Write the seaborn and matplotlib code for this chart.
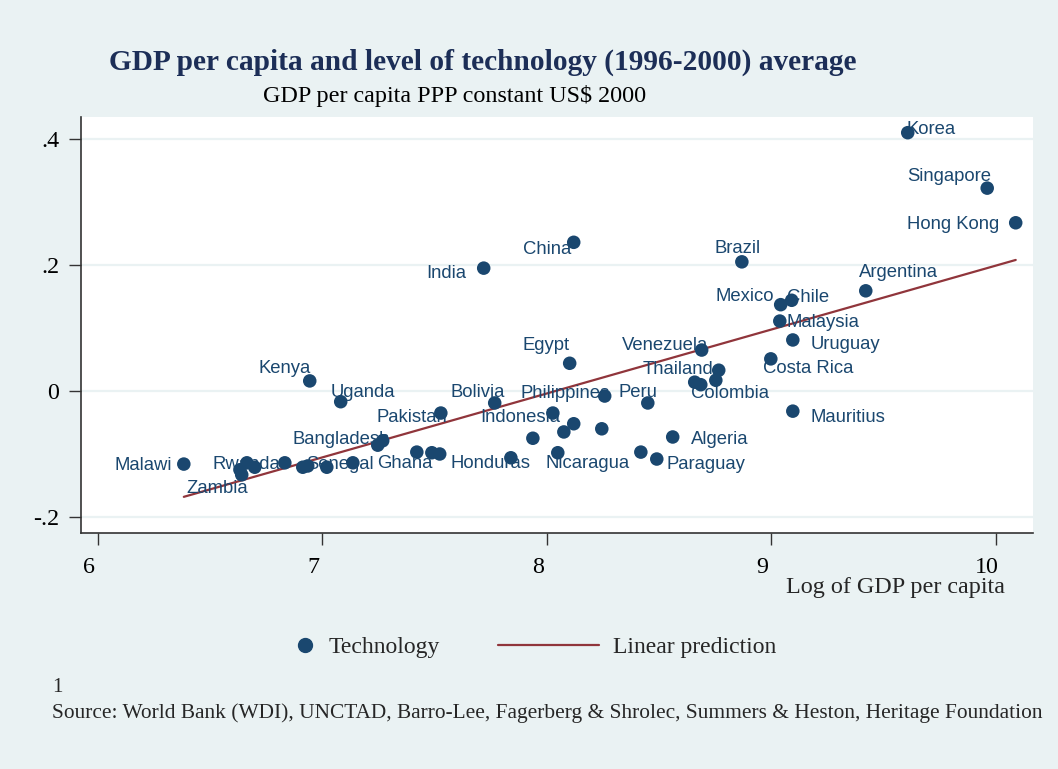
import matplotlib
matplotlib.use("Agg")
import matplotlib.pyplot as plt
from matplotlib.lines import Line2D
from matplotlib.transforms import ScaledTranslation
import seaborn as sns
import pandas as pd

# Datos (promedio 1996-2000)
paises = ["Korea", "Singapore", "Hong Kong", "Brazil", "Argentina", "China", "India",
          "Mexico", "Chile", "Malaysia", "Uruguay", "Costa Rica", "Mauritius", "Venezuela",
          "Thailand", "Colombia", "", "", "Peru", "Philippines", "Indonesia", "Bolivia",
          "Egypt", "", "", "", "", "Nicaragua", "Honduras", "", "Paraguay", "Algeria",
          "Pakistan", "Ghana", "", "", "Kenya", "Uganda", "Bangladesh", "", "Malawi",
          "Zambia", "", "", "", "Rwanda", "Senegal", "", "", ""]
log_gdp = [9.608, 9.962, 10.089, 8.869, 9.421, 8.120, 7.719,
           9.042, 9.091, 9.038, 9.096, 8.998, 9.096, 8.690,
           8.766, 8.659, 8.686, 8.753, 8.450, 8.258, 8.027, 7.768,
           8.102, 7.938, 8.076, 8.120, 8.245, 8.049, 7.840, 8.419, 8.490, 8.561,
           7.528, 7.523, 7.488, 7.421, 6.944, 7.082, 7.269, 7.247, 6.383,
           6.641, 6.633, 6.664, 6.699, 6.833, 6.913, 6.935, 7.020, 7.136]
tecnologia = [0.410, 0.322, 0.267, 0.205, 0.159, 0.236, 0.195,
              0.137, 0.144, 0.111, 0.081, 0.051, -0.032, 0.065,
              0.033, 0.014, 0.010, 0.017, -0.019, -0.008, -0.035, -0.019,
              0.044, -0.075, -0.065, -0.052, -0.060, -0.098, -0.106, -0.097, -0.108, -0.073,
              -0.035, -0.100, -0.098, -0.097, 0.016, -0.017, -0.079, -0.086, -0.116,
              -0.133, -0.125, -0.114, -0.121, -0.114, -0.121, -0.119, -0.121, -0.114]

# Predicción lineal (extremos)
pred_x = [6.383, 10.089]
pred_y = [-0.168, 0.208]

# Posición de cada etiqueta respecto al punto (pixeles, alineación)
pos_etiqueta = {
    "Korea": (-1, 5, "left"), "Singapore": (4, 14, "right"), "Hong Kong": (-16, 0, "right"),
    "Brazil": (-4, 15, "center"), "Argentina": (-7, 20, "left"), "China": (-2, -5, "right"),
    "India": (-17, -3, "right"), "Mexico": (-7, 10, "right"), "Chile": (-5, 5, "left"),
    "Malaysia": (7, 1, "left"), "Uruguay": (18, -3, "left"), "Costa Rica": (-8, -8, "left"),
    "Mauritius": (18, -4, "left"), "Venezuela": (6, 7, "right"), "Thailand": (-5, 3, "right"),
    "Colombia": (-4, -9, "left"), "Peru": (-29, 12, "left"), "Philippines": (5, 5, "right"),
    "Indonesia": (7, -2, "right"), "Bolivia": (10, 12, "right"), "Egypt": (0, 20, "right"),
    "Nicaragua": (-12, -9, "left"), "Honduras": (-60, -4, "left"), "Paraguay": (10, -3, "left"),
    "Algeria": (18, -1, "left"), "Pakistan": (6, -2, "right"), "Ghana": (-7, -8, "right"),
    "Kenya": (1, 14, "right"), "Uganda": (-10, 11, "left"), "Bangladesh": (7, 3, "right"),
    "Malawi": (-12, 1, "right"), "Zambia": (6, -12, "right"), "Rwanda": (-5, 0, "right"),
    "Senegal": (3, 5, "left"),
}

AZUL = "#1a476f"
GRANATE = "#90353b"
FONDO = "#eaf2f3"

df = pd.DataFrame({"pais": paises, "log_gdp": log_gdp, "tec": tecnologia})

sns.set_theme(style="white")
plt.rcParams["font.family"] = ["Liberation Serif", "DejaVu Serif"]

fig = plt.figure(figsize=(10.58, 7.69), dpi=100, facecolor=FONDO)
ax = fig.add_axes([81 / 1058, 1 - 533 / 769, (1033 - 81) / 1058, (533 - 117) / 769])
ax.set_facecolor("white")

sns.lineplot(x=pred_x, y=pred_y, color=GRANATE, linewidth=1.6, ax=ax, zorder=2)
sns.scatterplot(data=df, x="log_gdp", y="tec", color=AZUL, s=95, edgecolor="none",
                ax=ax, zorder=3, legend=False)

# Etiquetas de los países
for _, fila in df.iterrows():
    if fila["pais"] == "":
        continue
    dx, dy, ha = pos_etiqueta[fila["pais"]]
    ax.annotate(fila["pais"], (fila["log_gdp"], fila["tec"]), xytext=(dx, dy),
                textcoords="offset pixels", ha=ha, va="center_baseline",
                fontsize=13.3, color=AZUL, family=["Liberation Sans", "DejaVu Sans"],
                zorder=4)

ax.set_xlim(5.925, 10.166)
ax.set_ylim(-0.2254, 0.4349)
ax.set_xticks([6, 7, 8, 9, 10])
ax.set_xticklabels(["6", "7", "8", "9", "10"])
ax.set_yticks([-0.2, 0, 0.2, 0.4])
ax.set_yticklabels(["-.2", "0", ".2", ".4"])
ax.grid(axis="y", color=FONDO, linewidth=1.6)
ax.set_axisbelow(True)
ax.tick_params(axis="both", direction="out", length=8.5, width=1, color="#333333",
               labelsize=17.3, labelcolor="black", bottom=True, left=True)
ax.tick_params(axis="x", pad=9)
ax.tick_params(axis="y", pad=7)
for lab in ax.get_xticklabels():
    lab.set_transform(lab.get_transform() + ScaledTranslation(-9 / 100, 0, fig.dpi_scale_trans))

for lado in ["top", "right"]:
    ax.spines[lado].set_visible(False)
for lado in ["left", "bottom"]:
    ax.spines[lado].set_color("#333333")
    ax.spines[lado].set_linewidth(1.2)
ax.set_xlabel("")
ax.set_ylabel("")

fig.text(1005 / 1058, 1 - 588 / 769, "Log of GDP per capita",
         ha="right", va="center", fontsize=17.4)

# Títulos
fig.text(483 / 1058, 1 - 62 / 769, "GDP per capita and level of technology (1996-2000) average",
         ha="center", va="center", fontsize=21.2, fontweight="bold", color="#1c2e57")
fig.text(455 / 1058, 1 - 96 / 769, "GDP per capita PPP constant US$ 2000",
         ha="center", va="center", fontsize=17.4, color="black")

# Leyenda
h_tec = Line2D([], [], linestyle="none", marker="o", markersize=10, color=AZUL)
h_lin = Line2D([], [], color=GRANATE, linewidth=1.6)
fig.legend([h_tec], ["Technology"], loc="center", bbox_to_anchor=(367 / 1058, 1 - 647 / 769),
           frameon=False, fontsize=17, handlelength=1, handletextpad=0.5)
fig.legend([h_lin], ["Linear prediction"], loc="center", bbox_to_anchor=(637 / 1058, 1 - 647 / 769),
           frameon=False, fontsize=17, handlelength=4.3, handletextpad=0.6)

fig.text(52 / 1058, 1 - 688 / 769, "1", ha="left", va="center", fontsize=15)
fig.text(52 / 1058, 1 - 713 / 769,
         "Source: World Bank (WDI), UNCTAD, Barro-Lee, Fagerberg & Shrolec, Summers & Heston, Heritage Foundation",
         ha="left", va="center", fontsize=15.4)

fig.savefig("out.png", dpi=100, facecolor=FONDO)
